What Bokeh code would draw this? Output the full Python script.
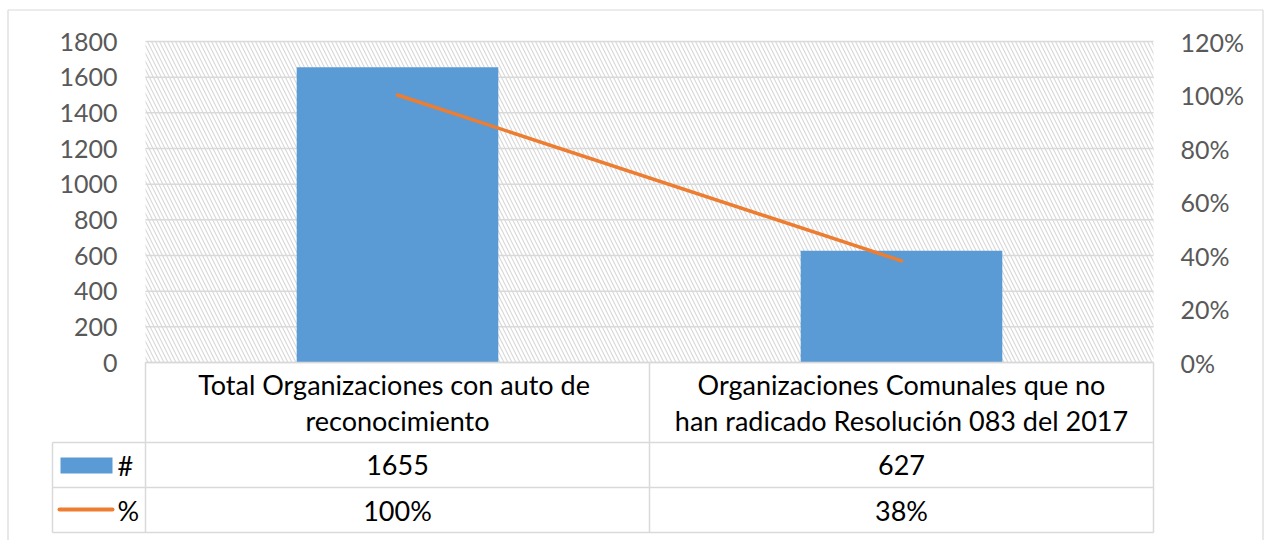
from bokeh.plotting import figure
from bokeh.models import Range1d, BoxAnnotation
from bokeh.core.properties import value
from bokeh.embed import file_html
from bokeh.resources import INLINE

# ---------------- data ----------------
categories = ["Total Organizaciones con auto  de\nreconocimiento",
              "Organizaciones Comunales que no\nhan radicado Resolución 083 del 2017"]
counts = [1655, 627]
percents = [1.00, 0.38]
series_names = ["#", "%"]
count_ticks = [0, 200, 400, 600, 800, 1000, 1200, 1400, 1600, 1800]
pct_ticks = [0.0, 0.2, 0.4, 0.6, 0.8, 1.0, 1.2]

# ---------------- layout (canvas pixels) ----------------
W, H = 1264, 540
PL, PR, PT, PB = 145, 1153, 41, 362       # chart plot area
ROW1, ROW2, ROW3 = 442, 487, 532          # table row bottoms
LEG_L = 52
FONT = value("Lato")
TICK_FS = "25px"
TAB_FS = "27px"
GRID = "#D9D9D9"

n = len(categories)
px_per_x = (PR - PL) / n
y_max = count_ticks[-1]
units_per_px = y_max / (PB - PT)
x_start = -PL / px_per_x
x_end = (W - PL) / px_per_x
y_start = -(H - PB) * units_per_px
y_end = PB * units_per_px
pct_max = pct_ticks[-1]

p = figure(width=W, height=H, output_backend="svg", toolbar_location=None,
           x_range=Range1d(x_start, x_end), y_range=Range1d(y_start, y_end),
           x_axis_type=None, y_axis_type=None, outline_line_color=None)
p.min_border = 0
p.min_border_left = 0
p.min_border_top = 0
p.min_border_bottom = 0
p.min_border_right = 0
p.background_fill_color = "white"
p.border_fill_color = "white"
p.grid.visible = False

p.extra_y_ranges = {
    "pct": Range1d(y_start / y_max * pct_max, y_end / y_max * pct_max),
    "py": Range1d(H, 0),
}
p.extra_x_ranges = {"px": Range1d(0, W)}

# outer chart border
p.segment(x0=[7.5, 7.5, 1262.5], x1=[1262.5, 7.5, 1262.5], y0=[9.5, 9.5, 9.5],
          y1=[9.5, H, H], x_range_name="px", y_range_name="py",
          line_color=GRID, line_width=1.2)

# hatched plot area
p.add_layout(BoxAnnotation(left=0, right=n, bottom=0, top=y_max,
                           fill_alpha=0, line_color=None,
                           hatch_pattern="\\", hatch_color="#D9D9D9",
                           hatch_scale=8, hatch_weight=1.2, level="underlay"))

# gridlines
p.segment(x0=[0] * len(count_ticks), x1=[n] * len(count_ticks),
          y0=count_ticks, y1=count_ticks, line_color=GRID, line_width=1.5)

# left tick labels
p.text(x=[0] * len(count_ticks), y=count_ticks, text=[str(t) for t in count_ticks],
       x_offset=-28, text_align="right", text_baseline="middle",
       text_font=FONT, text_font_size=TICK_FS, text_color="#595959")

# right tick labels
p.text(x=[n] * len(pct_ticks), y=pct_ticks, text=[f"{round(t * 100)}%" for t in pct_ticks],
       x_offset=27, y_range_name="pct", text_align="left", text_baseline="middle",
       text_font=FONT, text_font_size=TICK_FS, text_color="#595959")

xs = [i + 0.5 for i in range(n)]

# bars and line
p.vbar(x=xs, top=counts, width=0.4, fill_color="#5B9BD5", line_color=None)
p.line(x=xs, y=percents, y_range_name="pct", line_color="#ED7D31",
       line_width=3.5, line_cap="round")

# ---------------- data table ----------------
p.segment(x0=[PL, LEG_L, LEG_L, LEG_L], x1=[PR] * 4, y0=[PB, ROW1, ROW2, ROW3],
          y1=[PB, ROW1, ROW2, ROW3], x_range_name="px", y_range_name="py",
          line_color=GRID, line_width=1.5)
bounds = list(range(n + 1))
p.segment(x0=bounds, x1=bounds, y0=[PB] * len(bounds), y1=[ROW3] * len(bounds),
          y_range_name="py", line_color=GRID, line_width=1.5)
p.segment(x0=[LEG_L], x1=[LEG_L], y0=[ROW1], y1=[ROW3], x_range_name="px",
          y_range_name="py", line_color=GRID, line_width=1.5)

p.text(x=xs, y=[(PB + ROW1) / 2] * n, text=categories, y_range_name="py",
       text_align="center", text_baseline="middle", text_line_height=1.1,
       text_font=FONT, text_font_size=TAB_FS, text_color="black")
p.text(x=xs, y=[(ROW1 + ROW2) / 2] * n, text=[str(c) for c in counts], y_range_name="py",
       text_align="center", text_baseline="middle",
       text_font=FONT, text_font_size=TAB_FS, text_color="black")
p.text(x=xs, y=[(ROW2 + ROW3) / 2] * n, text=[f"{round(v * 100)}%" for v in percents],
       y_range_name="py", text_align="center", text_baseline="middle",
       text_font=FONT, text_font_size=TAB_FS, text_color="black")

# legend keys
p.quad(left=[60], right=[112], top=[457], bottom=[473], x_range_name="px", y_range_name="py",
       fill_color="#5B9BD5", line_color=None)
p.segment(x0=[59], x1=[112], y0=[509], y1=[509], x_range_name="px", y_range_name="py",
          line_color="#ED7D31", line_width=4, line_cap="round")
p.text(x=[117, 117], y=[(ROW1 + ROW2) / 2, (ROW2 + ROW3) / 2], text=series_names,
       x_range_name="px", y_range_name="py", text_align="left", text_baseline="middle",
       text_font=FONT, text_font_size=TAB_FS, text_color="black")

open("out.html", "w").write(file_html(p, INLINE))
